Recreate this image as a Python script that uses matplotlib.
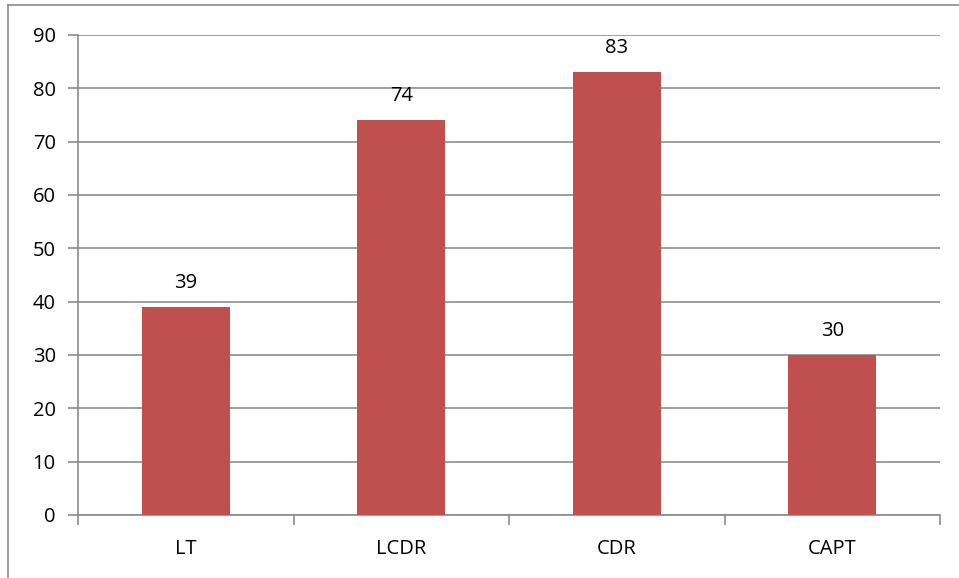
import numpy as np
import matplotlib.pyplot as plt
from matplotlib.lines import Line2D

categories = ['LT', 'LCDR', 'CDR', 'CAPT']
values = [39, 74, 83, 30]
y_ticks = [0, 10, 20, 30, 40, 50, 60, 70, 80, 90]

W, H = 959, 578
fig = plt.figure(figsize=(W / 100, H / 100), dpi=100)
plt.rcParams['font.family'] = ['Open Sans', 'DejaVu Sans']

# plot area in pixels: left 78, right 940, top 35, bottom 515
ax = fig.add_axes([78 / W, 1 - 515 / H, (940 - 78) / W, (515 - 35) / H])

grid_col = '#8c8c8c'
fs = 14.5
x = np.arange(len(categories))
ax.bar(x, values, width=0.41, color='#C0504D', zorder=3)
for xi, v in zip(x, values):
    ax.text(xi, v + 2.6, str(v), ha='center', va='bottom', fontsize=fs)

ax.set_xlim(-0.5, len(categories) - 0.5)
ax.set_ylim(0, 90)
ax.set_yticks(y_ticks)
ax.set_yticklabels([str(t) for t in y_ticks], fontsize=fs)
ax.yaxis.grid(True, color=grid_col, linewidth=1.2, zorder=0)

ax.set_xticks(x)
ax.set_xticklabels(categories, fontsize=fs)
ax.tick_params(axis='x', length=0, pad=17)
ax.set_xticks(np.arange(-0.5, len(categories)), minor=True)
ax.tick_params(axis='x', which='minor', length=7, color=grid_col, width=1.2)
ax.tick_params(axis='y', length=7, color=grid_col, width=1.2, pad=9)

for s in ['top', 'right']:
    ax.spines[s].set_visible(False)
for s in ['left', 'bottom']:
    ax.spines[s].set_color(grid_col)
    ax.spines[s].set_linewidth(1.2)

# chart area border (left and top edges visible)
fig.add_artist(Line2D([8 / W, 8 / W], [0, 1 - 5 / H], color=grid_col, lw=1.2,
                      transform=fig.transFigure))
fig.add_artist(Line2D([8 / W, 1], [1 - 5 / H, 1 - 5 / H], color=grid_col, lw=1.2,
                      transform=fig.transFigure))

fig.savefig('out.png', dpi=100)
